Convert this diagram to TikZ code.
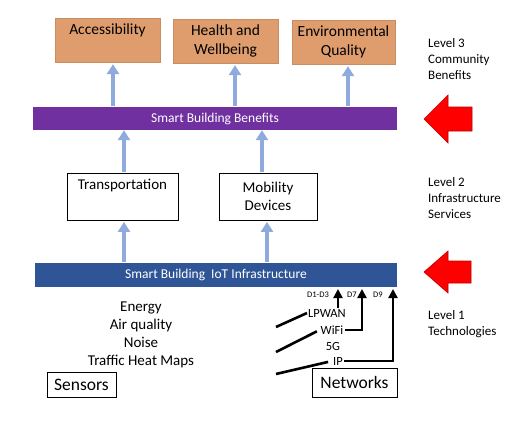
\documentclass[tikz,border=0pt]{standalone}
\usepackage{fontspec}
\setmainfont{Carlito}
\usetikzlibrary{arrows.meta}
\definecolor{tan}{HTML}{DF9D6E}
\definecolor{purp}{HTML}{7030A0}
\definecolor{navy}{HTML}{2F5597}
\definecolor{lblue}{HTML}{8FAADC}
\definecolor{dred}{HTML}{C00000}
\tikzset{
  benefit/.style={fill=tan, draw=tan!90!black, line width=0.4pt, minimum width=105pt, minimum height=44pt, align=center, font=\fontsize{15.5}{19}\selectfont, inner sep=0pt},
  service/.style={draw=black, line width=0.9pt, fill=white, minimum height=47pt, align=center, font=\fontsize{15}{18}\selectfont, inner sep=0pt},
  bar/.style={text=white, minimum height=23pt, inner sep=0pt, font=\fontsize{13.5}{16}\selectfont},
  uparrow/.style={draw=lblue, line width=4.5pt, -{Triangle[width=12pt,length=10pt]}},
  levtext/.style={anchor=west, align=left, inner sep=0pt, font=\fontsize{13}{16}\selectfont},
  bigred/.style={fill=red, draw=dred, line width=0.6pt},
  labelbox/.style={draw=black, line width=0.9pt, inner sep=0pt, font=\fontsize{17.5}{20}\selectfont},
  netlab/.style={inner sep=1pt, font=\fontsize{12.5}{14}\selectfont},
  dlab/.style={inner sep=0pt, font=\fontsize{8.5}{10}\selectfont},
  netline/.style={draw=black, line width=2.6pt},
  netarrow/.style={draw=black, line width=2.6pt, -{Triangle[width=9pt,length=9pt]}}
}
\begin{document}
\begin{tikzpicture}[x=1pt,y=-1pt]
\useasboundingbox[fill=white] (0,0) rectangle (520,429);

% Level 3 benefits
\node[benefit] (acc) at (107.5,40) {\rule{0pt}{13pt}Accessibility\\\strut};
\node[benefit] (hw) at (225.5,41) {Health and\\Wellbeing};
\node[benefit, minimum width=103pt] (env) at (343.5,42) {Environmental\\Quality};

% bars
\node[bar, fill=purp, minimum width=364pt] (sbb) at (215,118.5) {Smart Building Benefits};
\node[bar, fill=navy, minimum width=362pt, minimum height=24pt] (iot) at (216,275) {Smart Building\ \ IoT Infrastructure};

% Level 2 services
\node[service, minimum width=111pt] (trans) at (122.5,196.5) {Transportation\\\strut};
\node[service, minimum width=98pt] (mob) at (268,196.5) {Mobility\\Devices};

% arrow x positions
\coordinate (x1) at (113,0);
\coordinate (x2) at (235,0);
\coordinate (x3) at (348,0);
\coordinate (x4) at (124,0);
\coordinate (x5) at (262,0);
\coordinate (x6) at (124,0);
\coordinate (x7) at (267,0);

\draw[uparrow, shorten >=2pt, shorten <=1pt] (sbb.north -| x1) -- (acc.south -| x1);
\draw[uparrow, shorten >=2pt, shorten <=1pt] (sbb.north -| x2) -- (hw.south -| x2);
\draw[uparrow, shorten >=2pt, shorten <=1pt] (sbb.north -| x3) -- (env.south -| x3);
\draw[uparrow, shorten >=0pt, shorten <=1pt] (trans.north -| x4) -- (sbb.south -| x4);
\draw[uparrow, shorten >=0pt, shorten <=1pt] (mob.north -| x5) -- (sbb.south -| x5);
\draw[uparrow, shorten >=1.5pt, shorten <=1pt] (iot.north -| x6) -- (trans.south -| x6);
\draw[uparrow, shorten >=1.5pt, shorten <=1pt] (iot.north -| x7) -- (mob.south -| x7);

% level texts
\node[levtext] (lev3) at (428,59) {Level 3\\Community\\Benefits};
\node[levtext] (lev2) at (428,198) {Level 2\\Infrastructure\\Services};
\node[levtext] (lev1) at (428,324) {Level 1\\Technologies};

% red block arrows
\draw[bigred] (424,119) -- (448,95) -- (448,107) -- (472,107) -- (472,131) -- (448,131) -- (448,143) -- cycle;
\draw[bigred] (424,272) -- (448,251) -- (448,261) -- (471,261) -- (471,283) -- (448,283) -- (448,293) -- cycle;

% sensors
\node[align=center, inner sep=0pt, font=\fontsize{15}{18}\selectfont] (sensorlist) at (141,335) {Energy\\Air quality\\Noise\\Traffic Heat Maps};
\node[labelbox, minimum width=69pt, minimum height=25pt] (sensors) at (81.5,384.5) {Sensors};

% networks
\node[labelbox, minimum width=85pt, minimum height=29pt] (networks) at (354.5,382.5) {Networks};
\node[netlab] (lp) at (327,313) {LPWAN};
\node[netlab] (wifi) at (332,330) {WiFi};
\node[netlab] (fiveg) at (333,346) {5G};
\node[netlab] (ip) at (338,361) {IP};
\node[dlab] (d13) at (318,295) {D1-D3};
\node[dlab] (d7) at (352,295) {D7};
\node[dlab] (d9) at (378,295) {D9};

\coordinate (t13) at (338,289);
\coordinate (t7) at (362,289);
\coordinate (t9) at (393,289);
\draw[netarrow] (lp.north -| t13) -- (t13);
\draw[netarrow] (wifi.east) -| (t7);
\draw[netarrow] (ip.east) -| (t9);

\coordinate (s1) at (276,327);
\coordinate (s2) at (276,352);
\coordinate (s3) at (276,374);
\draw[netline] (s1) -- (lp.west);
\draw[netline, shorten >=3pt] (s2) -- (wifi.west);
\draw[netline, shorten >=4pt] (s3) -- (ip.west);
\end{tikzpicture}
\end{document}
